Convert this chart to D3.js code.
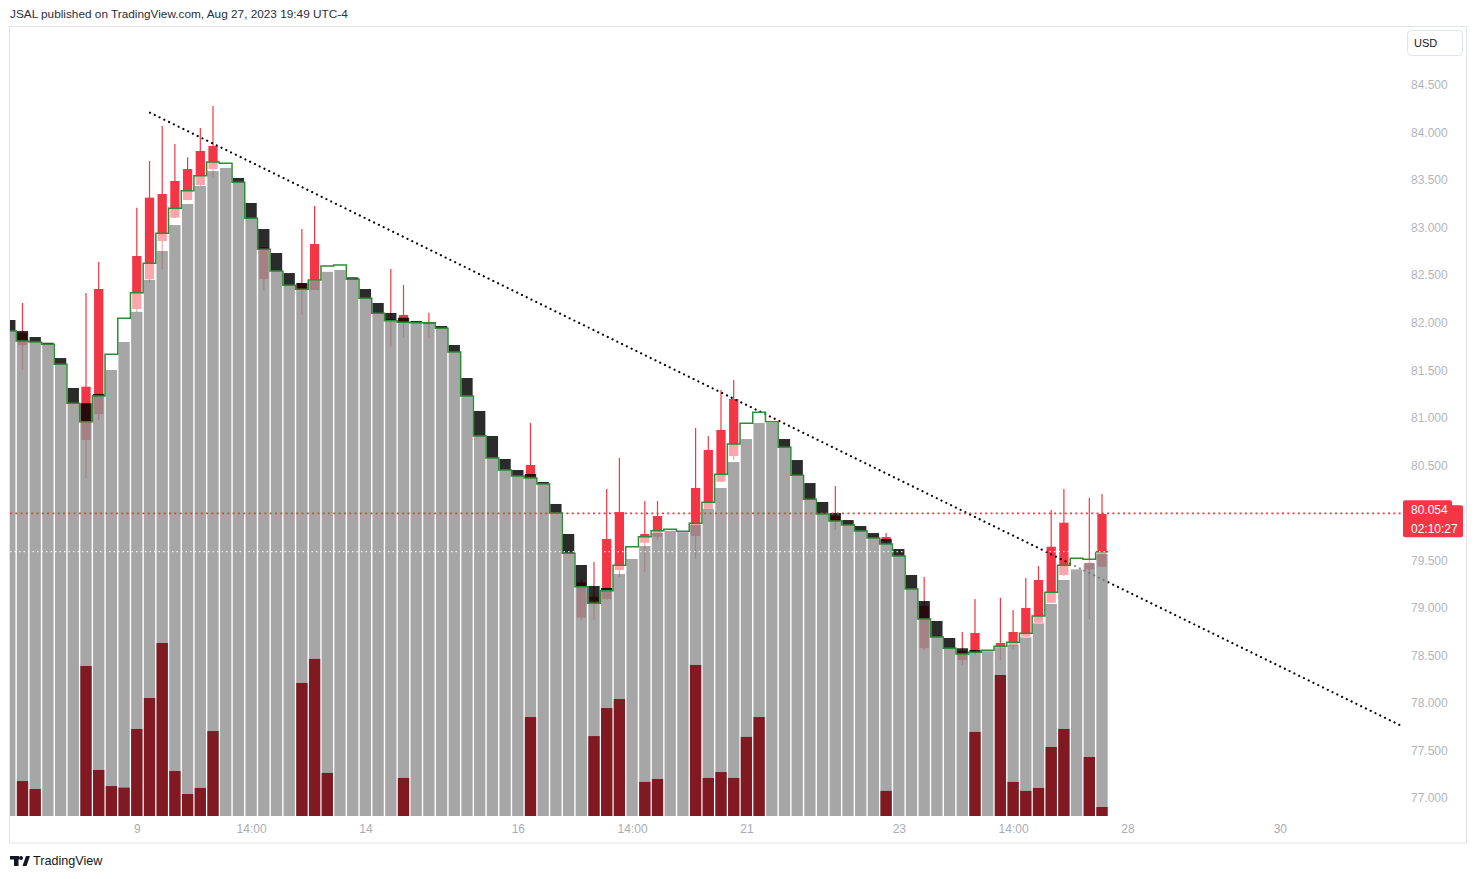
<!DOCTYPE html>
<html><head><meta charset="utf-8">
<script src="https://cdn.jsdelivr.net/npm/d3@7"></script>
<style>
html,body{margin:0;padding:0;background:#fff;}
svg{display:block;font-family:"Liberation Sans",Arial,sans-serif;}
</style></head><body>
<svg id="c" width="1477" height="879"></svg>
<script>
// ---- data (4h bars, index 0..86) ----
const bodyOpen = [
 82.028,81.912,81.849,81.789,81.628,81.313,81.152,81.250,81.502,81.797,
 82.115,82.449,82.754,83.027,83.248,83.438,83.595,83.627,83.522,83.259,
 82.985,82.733,82.522,82.417,82.444,82.536,82.554,82.477,82.354,82.207,
 82.102,82.052,82.018,82.002,81.965,81.765,81.418,81.071,80.808,80.566,
 80.450,80.408,80.324,80.093,79.777,79.451,79.230,79.209,79.356,79.514,
 79.651,79.787,79.812,79.803,79.872,80.040,80.261,80.534,80.776,80.945,
 80.948,80.776,80.555,80.313,80.114,79.998,79.924,79.861,79.787,79.724,
 79.619,79.346,79.072,78.862,78.683,78.575,78.557,78.551,78.588,78.609,
 78.690,78.838,79.041,79.293,79.406,79.469,79.567];
const bodyClose = [
 81.912,81.807,81.797,81.772,81.562,81.152,80.958,81.229,81.667,82.046,
 82.315,82.624,82.940,83.203,83.388,83.546,83.690,83.676,83.477,83.098,
 82.772,82.543,82.393,82.351,82.449,82.596,82.607,82.456,82.256,82.098,
 82.021,82.004,82.000,82.000,81.941,81.691,81.229,80.808,80.576,80.450,
 80.387,80.366,80.303,79.998,79.574,79.223,79.048,79.180,79.448,79.643,
 79.749,79.812,79.826,79.805,79.890,80.110,80.405,80.724,80.941,81.057,
 80.958,80.689,80.395,80.142,79.987,79.914,79.872,79.808,79.735,79.672,
 79.546,79.198,78.883,78.693,78.575,78.515,78.532,78.553,78.596,78.638,
 78.732,78.915,79.164,79.448,79.521,79.511,79.591];
const volume = [
 0,20.2,15.6,0,0,0,86.7,26.6,17.3,16.4,
 50.3,68.2,100,26,12.7,16.2,49.1,0,0,0,
 0,0,0,76.9,90.8,24.9,0,0,0,0,
 0,22,0,0,0,0,0,0,0,0,
 0,57.2,0,0,0,0,46.2,62.4,67.6,0,
 19.7,21.4,0,0,87.3,22,25.4,22,45.7,57.2,
 0,0,0,0,0,0,0,0,0,14.5,
 0,0,0,0,0,0,48.6,0,81.5,19.7,
 14.5,16.2,39.9,50.3,0,34.1,5.2];
const redIndex  = [1,6,7,10,11,12,13,14,15,16,20,23,24,30,31,33,41,45,46,47,48,50,51,54,55,56,57,65,69,72,75,76,78,79,80,81,82,83,85,86];
const redHigh   = [82.207,82.312,82.638,83.209,83.701,84.069,83.879,83.739,84.048,84.279,82.796,82.985,83.227,82.565,82.396,82.105,80.945,79.293,79.482,80.250,80.576,80.124,80.124,80.892,80.808,81.292,81.397,80.282,79.787,79.325,78.746,79.093,79.107,78.978,79.314,79.440,80.030,80.250,80.159,80.198];
const redTop    = [81.891,81.326,82.354,82.701,83.315,83.353,83.490,83.616,83.806,83.858,82.793,82.417,82.827,82.039,82.081,82.007,80.503,79.269,79.117,79.724,80.008,79.777,79.966,80.261,80.661,80.871,81.197,79.966,79.745,79.020,78.546,78.736,78.630,78.746,78.999,79.293,79.643,79.896,79.475,79.987];
const redBottom = [81.765,80.766,81.039,82.144,82.456,82.859,83.104,83.290,83.448,83.616,82.459,82.351,82.344,82.018,82.004,81.991,80.387,78.897,79.075,79.093,79.398,79.685,79.749,79.756,80.040,80.327,80.597,79.914,79.703,78.578,78.452,78.536,78.588,78.599,78.697,78.844,79.054,79.346,79.406,79.433];
const redLow    = [81.502,80.366,80.976,82.112,82.417,82.565,83.101,83.290,83.438,83.529,82.336,82.081,82.344,81.747,81.842,81.839,80.366,78.872,78.872,79.083,79.325,79.380,79.714,79.514,80.040,80.324,80.555,79.819,79.661,78.557,78.399,78.504,78.452,78.567,78.693,78.841,79.051,79.335,78.880,79.430];
// 80.000 is hidden under the last-price label in the reference
const yTicks = [84.5,84.0,83.5,83.0,82.5,82.0,81.5,81.0,80.5,79.5,79.0,78.5,78.0,77.5,77.0];
const timeTickIndex  = [10,19,28,40,49,58,70,79,88,100];
const timeTickLabels = ["9","14:00","14","16","14:00","21","23","14:00","28","30"];
const trendIndex = [11.04,109.6];
const trendPrice = [84.209,77.757];
const lastPrice = 79.994, lastPriceText = "80.054", countdownText = "02:10:27";

// ---- drawing ----
const svg = d3.select("#c");
const x = d3.scaleLinear().domain([0,100]).range([9.8,1279.8]);
const y = d3.scaleLinear().domain([77,84.5]).range([798,85]);
const vy = d3.scaleLinear().domain([0,100]).range([816,643]);
const step = x(1)-x(0), bw = step*0.89, rw = step*0.73;
const plotL=10, plotR=1403, plotT=27, plotB=816;

svg.append("rect").attr("x",9.5).attr("y",26.5).attr("width",1457).attr("height",816.5)
  .attr("fill","none").attr("stroke","#e0e3eb");

svg.append("defs").append("clipPath").attr("id","clip").append("rect")
  .attr("x",plotL).attr("y",plotT).attr("width",plotR-plotL).attr("height",plotB-plotT);
const g = svg.append("g").attr("clip-path","url(#clip)");

const idx = d3.range(bodyOpen.length);
const red = redIndex.map((k,j)=>({k,h:redHigh[j],t:redTop[j],b:redBottom[j],l:redLow[j]}));

// red candles
g.append("g").selectAll("line").data(red).join("line")
  .attr("x1",d=>x(d.k)).attr("x2",d=>x(d.k)).attr("y1",d=>y(d.h)).attr("y2",d=>y(d.l))
  .attr("stroke","#f23645").attr("stroke-width",1.2);
g.append("g").selectAll("rect").data(red).join("rect")
  .attr("x",d=>x(d.k)-rw/2).attr("width",rw)
  .attr("y",d=>y(d.t)).attr("height",d=>Math.max(1,y(d.b)-y(d.t)))
  .attr("fill","#f23645");

// trend line (under the columns)
g.append("line").attr("x1",x(trendIndex[0])).attr("y1",y(trendPrice[0]))
  .attr("x2",x(trendIndex[1])).attr("y2",y(trendPrice[1]))
  .attr("stroke","#000").attr("stroke-width",2.2).attr("stroke-linecap","round")
  .attr("stroke-dasharray","0.01 5.3");

// gray columns
g.append("g").selectAll("rect").data(idx).join("rect")
  .attr("x",i=>x(i)-bw/2).attr("width",bw)
  .attr("y",i=>y(Math.min(bodyOpen[i],bodyClose[i])))
  .attr("height",i=>plotB-y(Math.min(bodyOpen[i],bodyClose[i])))
  .attr("fill","rgb(146,146,146)").attr("fill-opacity",0.82);

// overlay bodies
g.append("g").selectAll("rect").data(idx).join("rect")
  .attr("x",i=>x(i)-bw/2).attr("width",bw)
  .attr("y",i=>y(Math.max(bodyOpen[i],bodyClose[i])))
  .attr("height",i=>Math.max(1,Math.abs(y(bodyOpen[i])-y(bodyClose[i]))))
  .attr("fill",i=>bodyClose[i]>=bodyOpen[i]?"rgba(255,255,255,0.56)":"rgba(0,0,0,0.83)");

// step line
const stepPts = idx.map(i=>[x(i)-step/2, y(bodyClose[i])]);
stepPts.push([x(idx.length-1)+step/2, y(bodyClose[idx.length-1])]);
g.append("path").attr("d",d3.line().curve(d3.curveStepAfter)(stepPts))
  .attr("fill","none").attr("stroke","#2e8b36").attr("stroke-width",1.5);

// volume
g.append("g").selectAll("rect").data(idx.filter(i=>volume[i]>0)).join("rect")
  .attr("x",i=>x(i)-bw/2).attr("width",bw)
  .attr("y",i=>vy(volume[i])).attr("height",i=>plotB-vy(volume[i]))
  .attr("fill","#801922");

// last-value lines
g.append("line").attr("x1",plotL).attr("x2",plotR)
  .attr("y1",y(bodyClose[bodyClose.length-1])).attr("y2",y(bodyClose[bodyClose.length-1]))
  .attr("stroke","#fff").attr("stroke-width",1).attr("stroke-dasharray","1.5 3");
g.append("line").attr("x1",plotL).attr("x2",plotR)
  .attr("y1",y(lastPrice)).attr("y2",y(lastPrice))
  .attr("stroke","#f23645").attr("stroke-width",1.6).attr("stroke-dasharray","2 3.3");

// axes
const ya = svg.append("g").attr("transform",`translate(${plotR},0)`)
  .call(d3.axisRight(y).tickValues(yTicks).tickFormat(d3.format(".3f")).tickSize(0).tickPadding(8));
ya.select(".domain").remove();
ya.selectAll("text").attr("fill","#b2b5be").style("font-size","12px").style("font-family","Liberation Sans, Arial, sans-serif");

const xa = svg.append("g").attr("transform",`translate(0,${plotB})`)
  .call(d3.axisBottom(x).tickValues(timeTickIndex).tickFormat((d,i)=>timeTickLabels[i]).tickSize(0).tickPadding(8));
xa.select(".domain").remove();
xa.selectAll("text").attr("fill","#a9acb5").style("font-size","12px").style("font-family","Liberation Sans, Arial, sans-serif");

// price label
const ly = y(lastPrice);
svg.append("rect").attr("x",1403).attr("y",ly-8).attr("width",60).attr("height",32).attr("rx",2).attr("fill","#f23645");
svg.append("rect").attr("x",1403).attr("y",ly-13).attr("width",49).attr("height",14).attr("rx",2).attr("fill","#f23645");
svg.append("text").attr("x",1411).attr("y",ly-4).attr("dy","0.35em").attr("fill","#fff")
  .style("font-size","12px").text(lastPriceText);
svg.append("text").attr("x",1411).attr("y",ly+15).attr("dy","0.35em").attr("fill","#fff")
  .style("font-size","12px").text(countdownText);

// currency box
svg.append("rect").attr("x",1407.5).attr("y",30.5).attr("width",55).attr("height",25).attr("rx",4)
  .attr("fill","#fff").attr("stroke","#e0e3eb");
svg.append("text").attr("x",1414).attr("y",43).attr("dy","0.35em").attr("fill","#131722")
  .style("font-size","11px").text("USD");

// header and footer
svg.append("text").attr("x",10).attr("y",14).attr("dy","0.35em").attr("fill","#2a2e39")
  .style("font-size","11.8px").text("JSAL published on TradingView.com, Aug 27, 2023 19:49 UTC-4");
const logo = svg.append("g").attr("fill","#131722");
logo.append("rect").attr("x",10).attr("y",856).attr("width",9).attr("height",3.5);
logo.append("rect").attr("x",14).attr("y",856).attr("width",4.5).attr("height",10);
logo.append("circle").attr("cx",21).attr("cy",858).attr("r",2);
logo.append("path").attr("d","M22.5,866 L26,856 L30,856 L26.5,866 Z");
svg.append("text").attr("x",33).attr("y",861).attr("dy","0.35em").attr("fill","#131722")
  .style("font-size","12.6px").text("TradingView");
</script>
</body></html>
